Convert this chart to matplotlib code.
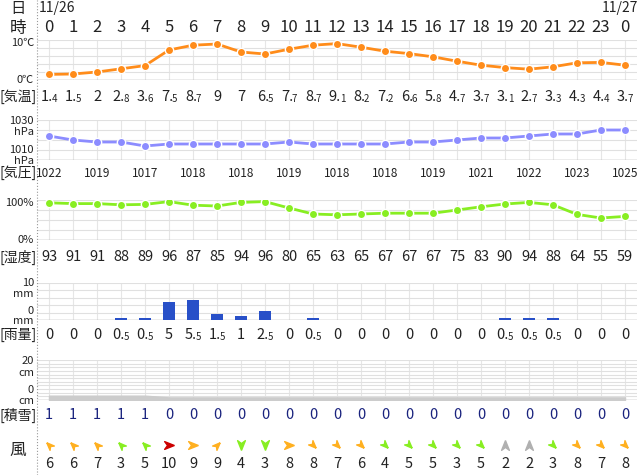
import matplotlib
matplotlib.use("Agg")
import matplotlib.pyplot as plt
import numpy as np

plt.rcParams['font.family'] = ['Noto Sans CJK JP', 'DejaVu Sans']

hours = list(range(24)) + [0]
temp = [1.4,1.5,2,2.8,3.6,7.5,8.7,9,7,6.5,7.7,8.7,9.1,8.2,7.2,6.6,5.8,4.7,3.7,3.1,2.7,3.3,4.3,4.4,3.7]
pres = [1022,1020,1019,1019,1017,1018,1018,1018,1018,1018,1019,1018,1018,1018,1018,1019,1019,1020,1021,1021,1022,1023,1023,1025,1025]
pres_labels = ["1022","1019","1017","1018","1018","1019","1018","1018","1019","1021","1022","1023","1025"]
hum = [93,91,91,88,89,96,87,85,94,96,80,65,63,65,67,67,67,75,83,90,94,88,64,55,59]
rain = [0,0,0,0.5,0.5,5,5.5,1.5,1,2.5,0,0.5,0,0,0,0,0,0,0,0.5,0.5,0.5,0,0,0]
snow = [1,1,1,1,1,0,0,0,0,0,0,0,0,0,0,0,0,0,0,0,0,0,0,0,0]
wind = [6,6,7,3,5,10,9,9,4,3,8,8,7,6,4,5,5,3,5,2,2,3,8,7,8]
wdir = [135,135,135,135,135,0,0,45,-90,-90,0,-45,-45,-45,-45,-45,-45,-45,-45,90,90,-45,-45,-45,-45]

W, H = 640, 475
fig = plt.figure(figsize=(6.4, 4.75), dpi=100)
x = np.arange(25)
X0, X1 = 37, 637

def px(xp): return xp / W
def py(yp): return 1 - yp / H
def colx(i): return X0 + 12 + 24 * i

def panel(top, bot, ylim, nh):
    ax = fig.add_axes([px(X0), py(bot), px(X1 - X0), (bot - top) / H])
    ax.set_xlim(-0.5, 24.5)
    ax.set_ylim(*ylim)
    for s in ax.spines.values():
        s.set_visible(False)
    ax.set_xticks([]); ax.set_yticks([])
    for xi in x:
        ax.axvline(xi, color='#e6e6e6', lw=0.8, zorder=0)
    for yv in np.linspace(ylim[0], ylim[1], nh):
        ax.axhline(yv, color='#e0e0e0', lw=0.8, zorder=0)
    ax.axhline(ylim[0], color='#aaaaaa', lw=1, zorder=1)
    return ax

def txt(xp, yp, s, size=10.5, ha='center', color='#222222'):
    fig.text(px(xp), py(yp), s, fontsize=size, ha=ha, va='center', color=color)

def numlabel(xc, yp, v):
    if float(v).is_integer():
        txt(xc, yp, str(int(v)))
    else:
        a, b = f"{v}".split('.')
        fig.text(px(xc + 4), py(yp), a + '.', fontsize=10.5, ha='right', va='center', color='#222222')
        fig.text(px(xc + 3), py(yp + 2), b, fontsize=7, ha='left', va='center', color='#222222')

# header
fig.add_artist(plt.Line2D([px(X0), px(X0)], [0, 1], color='#999999', lw=0.8, ls=':'))
txt(18, 8, '日', 11)
txt(18, 28, '時', 12)
txt(X0 + 2, 8, '11/26', 10, ha='left')
txt(638, 8, '11/27', 10, ha='right')
for i, h in enumerate(hours):
    txt(colx(i), 27, str(h), 12)

# temperature
ax = panel(40, 80, (0, 10), 6)
ax.plot(x, temp, color='#ff8c1a', lw=2, marker='o', ms=6, mec='white', mew=1)
txt(34, 43, '10℃', 8, ha='right'); txt(34, 80, '0℃', 8, ha='right')
txt(18, 97, '[気温]', 10)
for i, v in enumerate(temp):
    numlabel(colx(i), 97, v)

# pressure
ax = panel(120, 160, (1010, 1030), 5)
ax.plot(x, pres, color='#8c8cff', lw=2, marker='o', ms=6, mec='white', mew=1)
txt(34, 121, '1030', 8, ha='right'); txt(34, 132, 'hPa', 8, ha='right')
txt(34, 150, '1010', 8, ha='right'); txt(34, 161, 'hPa', 8, ha='right')
txt(18, 173, '[気圧]', 10)
for k, s in enumerate(pres_labels):
    txt(colx(2 * k), 173, s, 8.5)

# humidity
ax = panel(200, 240, (0, 100), 5)
ax.plot(x, hum, color='#88ee22', lw=2, marker='o', ms=6, mec='white', mew=1)
txt(34, 203, '100%', 8, ha='right'); txt(34, 240, '0%', 8, ha='right')
txt(18, 257, '[湿度]', 10)
for i, v in enumerate(hum):
    txt(colx(i), 257, str(v))

# rain
ax = panel(283, 320, (0, 10), 6)
ax.bar(x, rain, width=0.5, color='#2850c8', zorder=2)
txt(34, 283, '10', 8, ha='right'); txt(34, 294, 'mm', 8, ha='right')
txt(34, 311, '0', 8, ha='right'); txt(34, 321, 'mm', 8, ha='right')
txt(18, 335, '[雨量]', 10)
for i, v in enumerate(rain):
    numlabel(colx(i), 335, v)

# snow
ax = panel(360, 400, (-3, 20), 12)
ax.fill_between(x, -3, np.array(snow) - 1.5, color='#cccccc', zorder=2)
txt(34, 361, '20', 8, ha='right'); txt(34, 373, 'cm', 8, ha='right')
txt(34, 390, '0', 8, ha='right'); txt(34, 401, 'cm', 8, ha='right')
txt(18, 415, '[積雪]', 10)
for i, v in enumerate(snow):
    txt(colx(i), 415, str(v), color='#1a237e')

# wind
axw = fig.add_axes([px(X0), py(455), px(X1 - X0), 20 / H])
axw.set_xlim(-0.5, 24.5); axw.set_ylim(0, 1); axw.axis('off')
def wcol(s):
    if s >= 10: return '#cc0000'
    if s >= 6: return '#ffb020'
    if s >= 3: return '#88ee22'
    return '#b0b0b0'
arrow = np.array([[1, 0], [-1, 0.8], [-0.4, 0], [-1, -0.8], [1, 0]])
for i, (s, d) in enumerate(zip(wind, wdir)):
    t = np.deg2rad(d)
    R = np.array([[np.cos(t), -np.sin(t)], [np.sin(t), np.cos(t)]])
    m = arrow @ R.T
    axw.plot(i, 0.5, marker=m, ms=7, color=wcol(s), mec=wcol(s), ls='none')
txt(18, 450, '風', 12)
for i, v in enumerate(wind):
    txt(colx(i), 464, str(v))

fig.savefig('out.png', dpi=100)
